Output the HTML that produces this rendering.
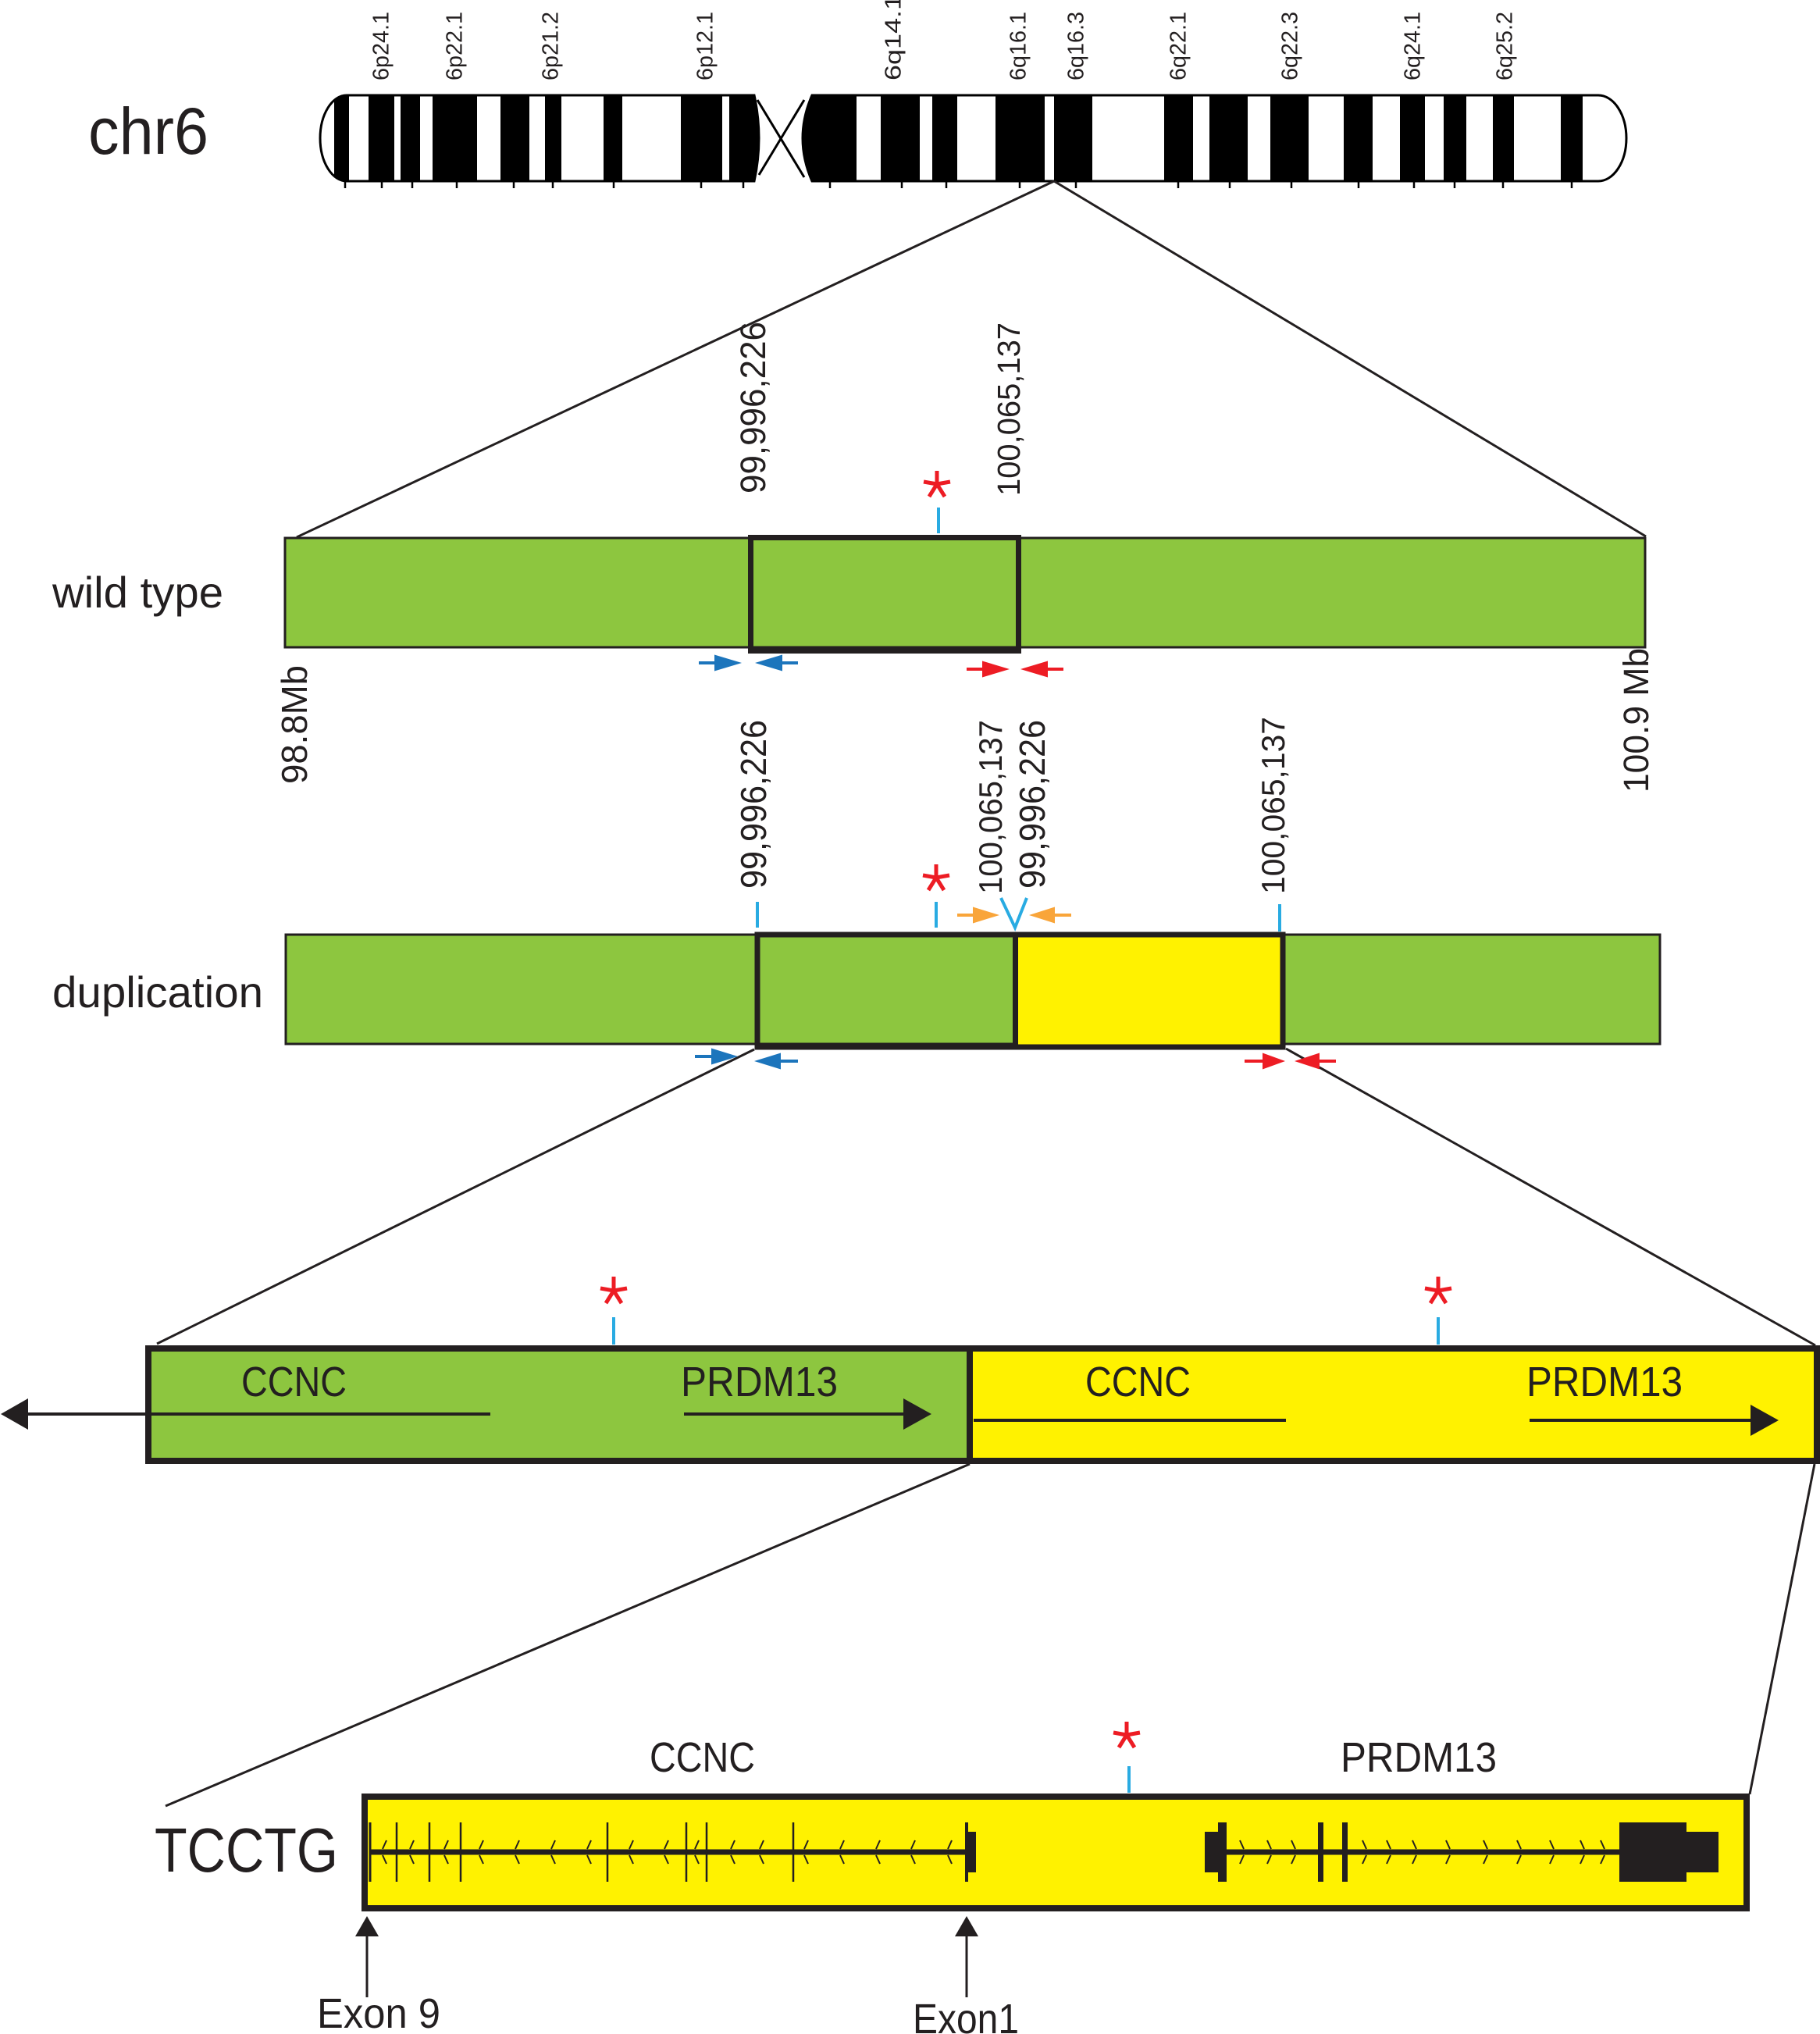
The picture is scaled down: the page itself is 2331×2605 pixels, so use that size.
<!DOCTYPE html>
<html>
<head>
<meta charset="utf-8">
<style>
html,body{margin:0;padding:0;background:#fff}
svg{display:block}
text{font-family:"Liberation Sans",sans-serif;fill:#231f20}
</style>
</head>
<body>
<svg xmlns="http://www.w3.org/2000/svg" width="2331" height="2605" viewBox="0 0 2331 2605">
<rect x="0" y="0" width="2331" height="2605" fill="#fff"/>
<defs>
<clipPath id="pc"><path d="M444,122 L966,122 Q978,177 966,232 L444,232 A34,55 0 0 1 444,122 Z"/></clipPath>
<clipPath id="qc"><path d="M1040,122 L2047,122 A36,55 0 0 1 2047,232 L1040,232 Q1016,177 1040,122 Z"/></clipPath>
</defs>

<!-- chr6 label -->
<text x="113" y="197" font-size="84" textLength="154" lengthAdjust="spacingAndGlyphs">chr6</text>

<!-- band labels -->
<g font-size="29">
<text transform="translate(497.5,103) rotate(-90)" textLength="88" lengthAdjust="spacingAndGlyphs">6p24.1</text>
<text transform="translate(591.5,103) rotate(-90)" textLength="88" lengthAdjust="spacingAndGlyphs">6p22.1</text>
<text transform="translate(714.5,103) rotate(-90)" textLength="88" lengthAdjust="spacingAndGlyphs">6p21.2</text>
<text transform="translate(912.5,103) rotate(-90)" textLength="88" lengthAdjust="spacingAndGlyphs">6p12.1</text>
<text transform="translate(1153.5,103) rotate(-90)" textLength="110" lengthAdjust="spacingAndGlyphs">6q14.1</text>
<text transform="translate(1313.5,103) rotate(-90)" textLength="88" lengthAdjust="spacingAndGlyphs">6q16.1</text>
<text transform="translate(1387.5,103) rotate(-90)" textLength="88" lengthAdjust="spacingAndGlyphs">6q16.3</text>
<text transform="translate(1518.5,103) rotate(-90)" textLength="88" lengthAdjust="spacingAndGlyphs">6q22.1</text>
<text transform="translate(1661.5,103) rotate(-90)" textLength="88" lengthAdjust="spacingAndGlyphs">6q22.3</text>
<text transform="translate(1818.5,103) rotate(-90)" textLength="88" lengthAdjust="spacingAndGlyphs">6q24.1</text>
<text transform="translate(1936.5,103) rotate(-90)" textLength="88" lengthAdjust="spacingAndGlyphs">6q25.2</text>
</g>

<!-- chromosome p arm -->
<path d="M444,122 L966,122 Q978,177 966,232 L444,232 A34,55 0 0 1 444,122 Z" fill="#fff"/>
<g clip-path="url(#pc)" fill="#000">
<rect x="428" y="118" width="19" height="118"/>
<rect x="472" y="118" width="33" height="118"/>
<rect x="513" y="118" width="25" height="118"/>
<rect x="554" y="118" width="57" height="118"/>
<rect x="641" y="118" width="37" height="118"/>
<rect x="698" y="118" width="21" height="118"/>
<rect x="773" y="118" width="24" height="118"/>
<rect x="872" y="118" width="53" height="118"/>
<rect x="934" y="118" width="50" height="118"/>
</g>
<path d="M444,122 L966,122 Q978,177 966,232 L444,232 A34,55 0 0 1 444,122 Z" fill="none" stroke="#000" stroke-width="3"/>

<!-- chromosome q arm -->
<path d="M1040,122 L2047,122 A36,55 0 0 1 2047,232 L1040,232 Q1016,177 1040,122 Z" fill="#fff"/>
<g clip-path="url(#qc)" fill="#000">
<rect x="1005" y="118" width="92" height="118"/>
<rect x="1128" y="118" width="50" height="118"/>
<rect x="1194" y="118" width="32" height="118"/>
<rect x="1275" y="118" width="63" height="118"/>
<rect x="1350" y="118" width="49" height="118"/>
<rect x="1491" y="118" width="37" height="118"/>
<rect x="1549" y="118" width="49" height="118"/>
<rect x="1627" y="118" width="49" height="118"/>
<rect x="1721" y="118" width="37" height="118"/>
<rect x="1793" y="118" width="32" height="118"/>
<rect x="1849" y="118" width="29" height="118"/>
<rect x="1912" y="118" width="27" height="118"/>
<rect x="1999" y="118" width="28" height="118"/>
</g>
<path d="M1040,122 L2047,122 A36,55 0 0 1 2047,232 L1040,232 Q1016,177 1040,122 Z" fill="none" stroke="#000" stroke-width="3"/>

<!-- centromere X -->
<line x1="970" y1="128" x2="1030" y2="227" stroke="#000" stroke-width="3"/>
<line x1="1030" y1="128" x2="972" y2="224" stroke="#000" stroke-width="3"/>

<!-- ticks under chromosome -->
<g stroke="#000" stroke-width="2.5">
<line x1="442" y1="232" x2="442" y2="241"/>
<line x1="489" y1="232" x2="489" y2="241"/>
<line x1="528" y1="232" x2="528" y2="241"/>
<line x1="585" y1="232" x2="585" y2="241"/>
<line x1="658" y1="232" x2="658" y2="241"/>
<line x1="708" y1="232" x2="708" y2="241"/>
<line x1="786" y1="232" x2="786" y2="241"/>
<line x1="898" y1="232" x2="898" y2="241"/>
<line x1="952" y1="232" x2="952" y2="241"/>
<line x1="1063" y1="232" x2="1063" y2="241"/>
<line x1="1155" y1="232" x2="1155" y2="241"/>
<line x1="1212" y1="232" x2="1212" y2="241"/>
<line x1="1306" y1="232" x2="1306" y2="241"/>
<line x1="1378" y1="232" x2="1378" y2="241"/>
<line x1="1509" y1="232" x2="1509" y2="241"/>
<line x1="1575" y1="232" x2="1575" y2="241"/>
<line x1="1654" y1="232" x2="1654" y2="241"/>
<line x1="1740" y1="232" x2="1740" y2="241"/>
<line x1="1811" y1="232" x2="1811" y2="241"/>
<line x1="1863" y1="232" x2="1863" y2="241"/>
<line x1="1925" y1="232" x2="1925" y2="241"/>
<line x1="2013" y1="232" x2="2013" y2="241"/>
</g>

<!-- connectors -->
<g stroke="#231f20" stroke-width="3" fill="none">
<line x1="1350" y1="232" x2="380" y2="688"/>
<line x1="1350" y1="232" x2="2108" y2="687"/>
<line x1="966" y1="1344" x2="201" y2="1721"/>
<line x1="1647" y1="1343" x2="2325" y2="1723"/>
<line x1="1242" y1="1875" x2="212" y2="2313"/>
<line x1="2324" y1="1875" x2="2241" y2="2298"/>
</g>

<!-- wild type -->
<text x="67" y="778" font-size="56" textLength="219" lengthAdjust="spacingAndGlyphs">wild type</text>
<rect x="365" y="689" width="1742" height="140" fill="#8dc63f" stroke="#231f20" stroke-width="3"/>
<rect x="961.5" y="688.5" width="343" height="145" fill="none" stroke="#231f20" stroke-width="7"/>

<g font-size="45">
<text transform="translate(980,632) rotate(-90)" textLength="220" lengthAdjust="spacingAndGlyphs">99,996,226</text>
</g>
<g font-size="41">
<text transform="translate(1306,635) rotate(-90)" textLength="222" lengthAdjust="spacingAndGlyphs">100,065,137</text>
</g>
<text transform="translate(393,1004) rotate(-90)" font-size="46" textLength="152" lengthAdjust="spacingAndGlyphs">98.8Mb</text>
<text transform="translate(2111,1015) rotate(-90)" font-size="45" textLength="185" lengthAdjust="spacingAndGlyphs">100.9 Mb</text>

<!-- WT asterisk & tick -->
<g stroke="#ed1c24" stroke-width="5" fill="none">
<path d="M1200,620 L1200,603 M1200,620 L1183,617 M1200,620 L1217,617 M1200,620 L1190,636 M1200,620 L1210,636"/>
</g>
<line x1="1202" y1="650" x2="1202" y2="683" stroke="#29abe2" stroke-width="4"/>

<!-- WT primers -->
<g>
<line x1="895" y1="849" x2="917" y2="849" stroke="#1c75bc" stroke-width="4"/>
<polygon points="915,838.5 950,849 915,859.5" fill="#1c75bc"/>
<line x1="1000" y1="849" x2="1022" y2="849" stroke="#1c75bc" stroke-width="4"/>
<polygon points="1002,838.5 967,849 1002,859.5" fill="#1c75bc"/>
<line x1="1238" y1="857" x2="1260" y2="857" stroke="#ed1c24" stroke-width="4"/>
<polygon points="1258,846.5 1293,857 1258,867.5" fill="#ed1c24"/>
<line x1="1340" y1="857" x2="1362" y2="857" stroke="#ed1c24" stroke-width="4"/>
<polygon points="1342,846.5 1307,857 1342,867.5" fill="#ed1c24"/>
</g>

<!-- duplication -->
<text x="67" y="1290" font-size="56" textLength="270" lengthAdjust="spacingAndGlyphs">duplication</text>
<rect x="366" y="1197" width="1760" height="140" fill="#8dc63f" stroke="#231f20" stroke-width="3"/>
<rect x="1300" y="1197" width="343" height="144" fill="#fff200"/>
<rect x="970" y="1197" width="673" height="144" fill="none" stroke="#231f20" stroke-width="7"/>
<line x1="1300.5" y1="1197" x2="1300.5" y2="1341" stroke="#231f20" stroke-width="7"/>

<g font-size="46">
<text transform="translate(981,1138) rotate(-90)" textLength="216" lengthAdjust="spacingAndGlyphs">99,996,226</text>
<text transform="translate(1338,1138) rotate(-90)" textLength="216" lengthAdjust="spacingAndGlyphs">99,996,226</text>
</g>
<g font-size="42">
<text transform="translate(1283,1145) rotate(-90)" textLength="223" lengthAdjust="spacingAndGlyphs">100,065,137</text>
<text transform="translate(1645,1145) rotate(-90)" textLength="227" lengthAdjust="spacingAndGlyphs">100,065,137</text>
</g>

<g stroke="#ed1c24" stroke-width="5" fill="none">
<path d="M1199,1124 L1199,1107 M1199,1124 L1182,1121 M1199,1124 L1216,1121 M1199,1124 L1189,1140 M1199,1124 L1209,1140"/>
</g>
<g stroke="#29abe2" stroke-width="4" fill="none">
<line x1="970" y1="1155" x2="970" y2="1188"/>
<line x1="1199" y1="1155" x2="1199" y2="1188"/>
<line x1="1639" y1="1158" x2="1639" y2="1193"/>
<polyline points="1282,1150 1300,1188 1315,1150"/>
</g>

<!-- orange primers -->
<line x1="1226" y1="1172" x2="1248" y2="1172" stroke="#f9a53a" stroke-width="4"/>
<polygon points="1246,1161.5 1280,1172 1246,1182.5" fill="#f9a53a"/>
<line x1="1349" y1="1172" x2="1372" y2="1172" stroke="#f9a53a" stroke-width="4"/>
<polygon points="1351,1161.5 1318,1172 1351,1182.5" fill="#f9a53a"/>

<!-- dup primers -->
<line x1="890" y1="1353" x2="913" y2="1353" stroke="#1c75bc" stroke-width="4"/>
<polygon points="911,1342.5 945,1353 911,1363.5" fill="#1c75bc"/>
<line x1="998" y1="1359" x2="1022" y2="1359" stroke="#1c75bc" stroke-width="4"/>
<polygon points="1000,1348.5 966,1359 1000,1369.5" fill="#1c75bc"/>
<line x1="1594" y1="1359" x2="1619" y2="1359" stroke="#ed1c24" stroke-width="4"/>
<polygon points="1617,1348.5 1646,1359 1617,1369.5" fill="#ed1c24"/>
<line x1="1688" y1="1359" x2="1711" y2="1359" stroke="#ed1c24" stroke-width="4"/>
<polygon points="1690,1348.5 1658,1359 1690,1369.5" fill="#ed1c24"/>

<!-- big bar -->
<rect x="190" y="1727" width="1052" height="144" fill="#8dc63f"/>
<rect x="1242" y="1727" width="1085" height="144" fill="#fff200"/>
<rect x="190" y="1727" width="2137" height="144" fill="none" stroke="#231f20" stroke-width="8"/>
<line x1="1242" y1="1727" x2="1242" y2="1871" stroke="#231f20" stroke-width="8"/>

<g font-size="54">
<text x="309" y="1788" textLength="135" lengthAdjust="spacingAndGlyphs">CCNC</text>
<text x="872" y="1788" textLength="201" lengthAdjust="spacingAndGlyphs">PRDM13</text>
<text x="1390" y="1788" textLength="135" lengthAdjust="spacingAndGlyphs">CCNC</text>
<text x="1955" y="1788" textLength="200" lengthAdjust="spacingAndGlyphs">PRDM13</text>
</g>

<g stroke="#231f20" stroke-width="4">
<line x1="34" y1="1811" x2="628" y2="1811"/>
<line x1="876" y1="1811" x2="1160" y2="1811"/>
<line x1="1247" y1="1819" x2="1647" y2="1819"/>
<line x1="1959" y1="1819" x2="2245" y2="1819"/>
</g>
<polygon points="36,1791 1,1811 36,1831" fill="#231f20"/>
<polygon points="1157,1791 1193,1811 1157,1831" fill="#231f20"/>
<polygon points="2242,1799 2278,1819 2242,1839" fill="#231f20"/>

<g stroke="#ed1c24" stroke-width="5" fill="none">
<path d="M786,1653 L786,1635 M786,1653 L769,1650 M786,1653 L803,1650 M786,1653 L776,1669 M786,1653 L796,1669"/>
<path d="M1842,1653 L1842,1635 M1842,1653 L1825,1650 M1842,1653 L1859,1650 M1842,1653 L1832,1669 M1842,1653 L1852,1669"/>
<path d="M1443,2222 L1443,2205 M1443,2222 L1426,2219 M1443,2222 L1460,2219 M1443,2222 L1433,2238 M1443,2222 L1453,2238"/>
</g>
<g stroke="#29abe2" stroke-width="4">
<line x1="786" y1="1687" x2="786" y2="1722"/>
<line x1="1842" y1="1687" x2="1842" y2="1722"/>
<line x1="1446" y1="2262" x2="1446" y2="2296"/>
</g>

<!-- bottom box -->
<text x="198" y="2397" font-size="80" textLength="235" lengthAdjust="spacingAndGlyphs">TCCTG</text>
<g font-size="54">
<text x="832" y="2269" textLength="135" lengthAdjust="spacingAndGlyphs">CCNC</text>
<text x="1717" y="2269" textLength="200" lengthAdjust="spacingAndGlyphs">PRDM13</text>
</g>
<rect x="467" y="2301" width="1770" height="143" fill="#fff200" stroke="#231f20" stroke-width="8"/>

<!-- CCNC gene -->
<g stroke="#231f20" fill="none">
<line x1="474" y1="2372" x2="1240" y2="2372" stroke-width="7"/>
<line x1="474" y1="2334" x2="474" y2="2410" stroke-width="3"/>
<g stroke-width="2.5">
<line x1="508" y1="2334" x2="508" y2="2410"/>
<line x1="550" y1="2334" x2="550" y2="2410"/>
<line x1="590" y1="2334" x2="590" y2="2410"/>
<line x1="778" y1="2334" x2="778" y2="2410"/>
<line x1="879" y1="2334" x2="879" y2="2410"/>
<line x1="905" y1="2334" x2="905" y2="2410"/>
<line x1="1016" y1="2334" x2="1016" y2="2410"/>
</g>
<g stroke-width="2">
<path d="M495,2357 L490,2368 M490,2376 L495,2387"/>
<path d="M530,2357 L525,2368 M525,2376 L530,2387"/>
<path d="M574,2357 L569,2368 M569,2376 L574,2387"/>
<path d="M619,2357 L614,2368 M614,2376 L619,2387"/>
<path d="M665,2357 L660,2368 M660,2376 L665,2387"/>
<path d="M711,2357 L706,2368 M706,2376 L711,2387"/>
<path d="M757,2357 L752,2368 M752,2376 L757,2387"/>
<path d="M811,2357 L806,2368 M806,2376 L811,2387"/>
<path d="M856,2357 L851,2368 M851,2376 L856,2387"/>
<path d="M895,2357 L890,2368 M890,2376 L895,2387"/>
<path d="M941,2357 L936,2368 M936,2376 L941,2387"/>
<path d="M978,2357 L973,2368 M973,2376 L978,2387"/>
<path d="M1035,2357 L1030,2368 M1030,2376 L1035,2387"/>
<path d="M1081,2357 L1076,2368 M1076,2376 L1081,2387"/>
<path d="M1127,2357 L1122,2368 M1122,2376 L1127,2387"/>
<path d="M1172,2357 L1167,2368 M1167,2376 L1172,2387"/>
<path d="M1219,2357 L1214,2368 M1214,2376 L1219,2387"/>
</g>
</g>
<rect x="1236" y="2334" width="4" height="76" fill="#231f20"/>
<rect x="1236" y="2346" width="14" height="52" fill="#231f20"/>

<!-- PRDM13 gene -->
<rect x="1543" y="2346" width="18" height="52" fill="#231f20"/>
<rect x="1560" y="2334" width="11" height="76" fill="#231f20"/>
<line x1="1571" y1="2372" x2="2076" y2="2372" stroke="#231f20" stroke-width="7"/>
<rect x="1688" y="2334" width="7" height="76" fill="#231f20"/>
<rect x="1719" y="2334" width="7" height="76" fill="#231f20"/>
<rect x="2074" y="2334" width="86" height="76" fill="#231f20"/>
<rect x="2159" y="2346" width="42" height="52" fill="#231f20"/>
<g stroke="#231f20" stroke-width="2" fill="none">
<path d="M1588,2357 L1593,2368 M1593,2376 L1588,2387"/>
<path d="M1623,2357 L1628,2368 M1628,2376 L1623,2387"/>
<path d="M1654,2357 L1659,2368 M1659,2376 L1654,2387"/>
<path d="M1745,2357 L1750,2368 M1750,2376 L1745,2387"/>
<path d="M1776,2357 L1781,2368 M1781,2376 L1776,2387"/>
<path d="M1809,2357 L1814,2368 M1814,2376 L1809,2387"/>
<path d="M1852,2357 L1857,2368 M1857,2376 L1852,2387"/>
<path d="M1900,2357 L1905,2368 M1905,2376 L1900,2387"/>
<path d="M1943,2357 L1948,2368 M1948,2376 L1943,2387"/>
<path d="M1985,2357 L1990,2368 M1990,2376 L1985,2387"/>
<path d="M2024,2357 L2029,2368 M2029,2376 L2024,2387"/>
<path d="M2050,2357 L2055,2368 M2055,2376 L2050,2387"/>
</g>

<!-- exon arrows -->
<line x1="470" y1="2478" x2="470" y2="2558" stroke="#231f20" stroke-width="3"/>
<polygon points="455,2480 470,2454 485,2480" fill="#231f20"/>
<line x1="1238" y1="2478" x2="1238" y2="2558" stroke="#231f20" stroke-width="3"/>
<polygon points="1223,2480 1238,2454 1253,2480" fill="#231f20"/>
<g font-size="54">
<text x="406" y="2597" textLength="158" lengthAdjust="spacingAndGlyphs">Exon 9</text>
<text x="1169" y="2604" textLength="136" lengthAdjust="spacingAndGlyphs">Exon1</text>
</g>
</svg>
</body>
</html>
